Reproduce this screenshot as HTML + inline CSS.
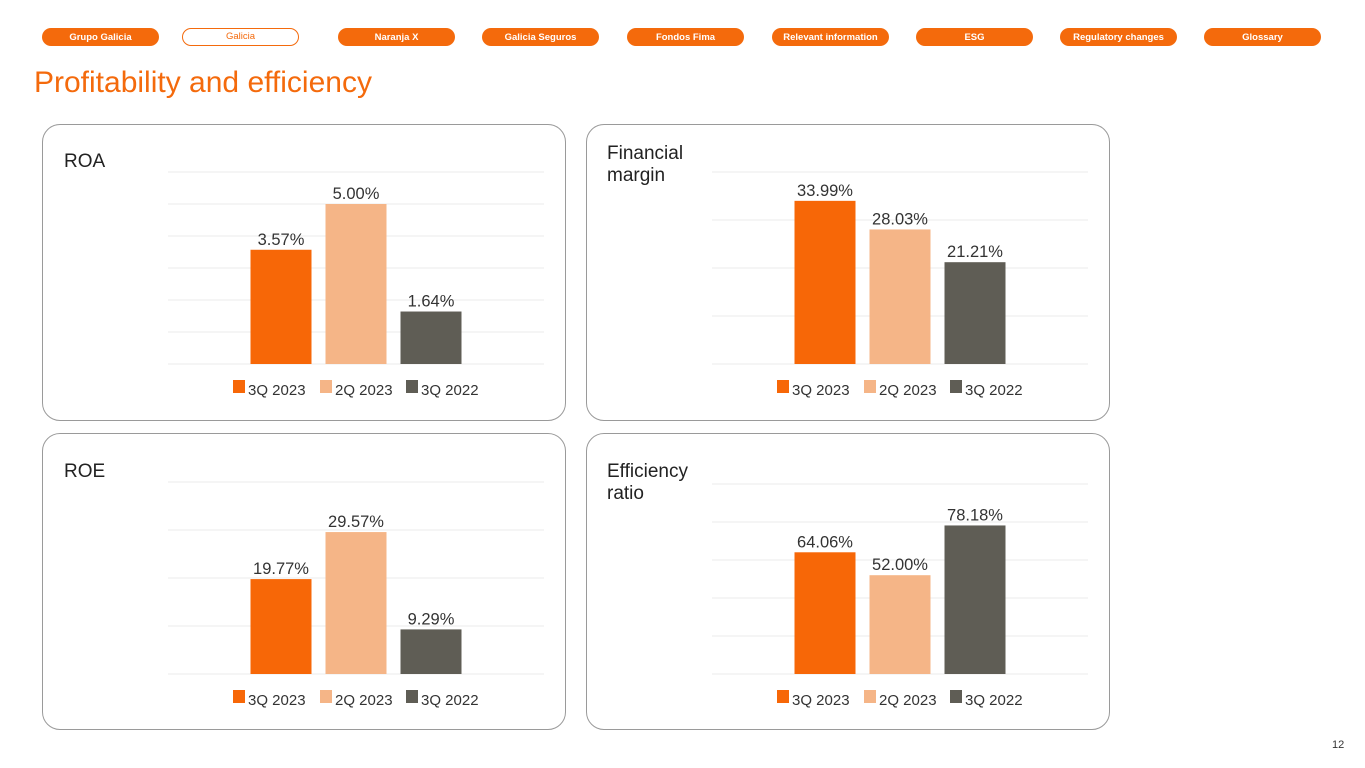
<!DOCTYPE html>
<html><head><meta charset="utf-8"><style>
body{margin:0;width:1365px;height:768px;background:#fff;font-family:"Liberation Sans",sans-serif;position:relative;overflow:hidden}
.pill{position:absolute;top:28px;height:18px;width:117px;border-radius:9px;background:#f46a0c;color:#fff;font-size:9.5px;font-weight:bold;text-align:center;line-height:19px;box-sizing:border-box}
.pill.out{background:#fff;border:1.5px solid #f46a0c;color:#f46a0c;line-height:16px;font-weight:normal}
h1{position:absolute;left:34px;top:66px;margin:0;font-weight:normal;font-size:30px;color:#f46a0c}
.panel{position:absolute;width:524px;height:297px;border:1px solid #9a9a9a;border-radius:18px;box-sizing:border-box}
.ttl{position:absolute;font-size:19px;color:#222;line-height:22px}
svg{position:absolute;left:0;top:0}
</style></head><body>
<div class="pill" style="left:42px">Grupo Galicia</div>
<div class="pill out" style="left:182px">Galicia</div>
<div class="pill" style="left:338px">Naranja X</div>
<div class="pill" style="left:482px">Galicia Seguros</div>
<div class="pill" style="left:627px">Fondos Fima</div>
<div class="pill" style="left:772px">Relevant information</div>
<div class="pill" style="left:916px">ESG</div>
<div class="pill" style="left:1060px">Regulatory changes</div>
<div class="pill" style="left:1204px">Glossary</div>
<h1>Profitability and efficiency</h1>
<div class="panel" style="left:42px;top:124px"></div>
<div class="panel" style="left:586px;top:124px"></div>
<div class="panel" style="left:42px;top:433px"></div>
<div class="panel" style="left:586px;top:433px"></div>
<div class="ttl" style="left:64px;top:151px">ROA</div>
<div class="ttl" style="left:607px;top:143px">Financial<br>margin</div>
<div class="ttl" style="left:64px;top:461px">ROE</div>
<div class="ttl" style="left:607px;top:461px">Efficiency<br>ratio</div>
<div style="position:absolute;left:1332px;top:739px;font-size:11px;color:#333">12</div>
<svg id="s" width="1365" height="768"></svg>
<script>
const series = ["3Q 2023","2Q 2023","3Q 2022"];
const colors = ["#f76707","#f5b587","#5f5d55"];
const roaValues = [3.57,5.00,1.64];
const fmValues = [33.99,28.03,21.21];
const roeValues = [19.77,29.57,9.29];
const effValues = [64.06,52.00,78.18];
const roaTicks=[0,1,2,3,4,5,6], fmTicks=[0,10,20,30,40], roeTicks=[0,10,20,30,40], effTicks=[0,20,40,60,80,100];
const NS="http://www.w3.org/2000/svg";
const svg=document.getElementById('s');
function mk(t,a){const e=document.createElementNS(NS,t);for(const k in a)e.setAttribute(k,a[k]);svg.appendChild(e);return e;}
function chart(name,vals,ticks,x0,x1,base,top){
  const max=ticks[ticks.length-1];
  const y=v=>base-(v/max)*(base-top);
  ticks.forEach(t=>{const l=mk('line',{x1:x0,x2:x1,y1:y(t),y2:y(t),stroke:'#ebebeb','stroke-width':1});
    
    });
  const c=(x0+x1)/2, bw=61, step=75;
  vals.forEach((v,i)=>{
    const cx=c+(i-1)*step;
    const r=mk('rect',{x:cx-bw/2,y:y(v),width:bw,height:base-y(v),fill:colors[i]});
    
    
    const t=mk('text',{x:cx,y:y(v)-5,'text-anchor':'middle','font-size':16.5,fill:'#333','font-family':'Liberation Sans'});
    t.textContent=v.toFixed(2)+'%';
    
    
  });
  const lx=[c-123,c-36,c+50];
  series.forEach((s,i)=>{
    const q=mk('rect',{x:lx[i],y:base+16,width:12,height:13,fill:colors[i]});
    
    
    const t=mk('text',{x:lx[i]+15,y:base+31,'font-size':15,fill:'#333','font-family':'Liberation Sans'});
    t.textContent=s;
    
    
  });
}
chart('roa',roaValues,roaTicks,168,544,364,172);
chart('financial-margin',fmValues,fmTicks,712,1088,364,172);
chart('roe',roeValues,roeTicks,168,544,674,482);
chart('efficiency',effValues,effTicks,712,1088,674,484);
</script>
</body></html>
